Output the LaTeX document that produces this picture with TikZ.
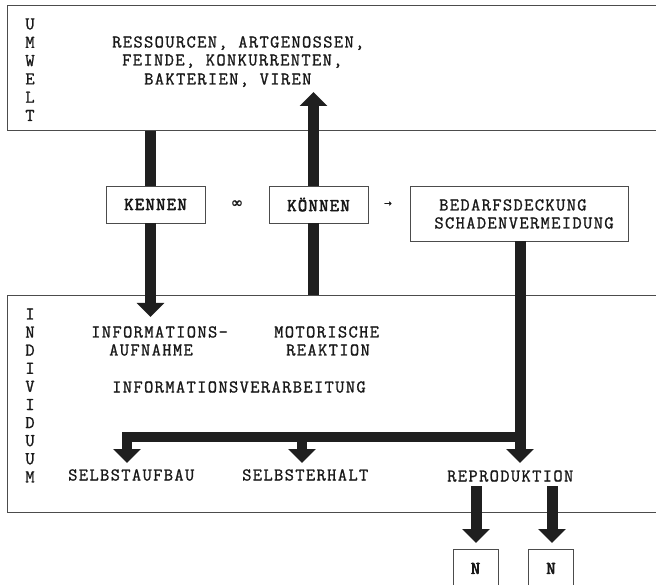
\documentclass[tikz,border=0pt]{standalone}
\usepackage{fontspec}
\newfontfamily\cmono[LetterSpace=7.5, FakeBold=1.1]{Latin Modern Mono}
\newfontfamily\cbold[LetterSpace=7.5, FakeBold=3]{Latin Modern Mono}
\newfontfamily\symf[FakeBold=1.2]{DejaVu Sans}
\usetikzlibrary{arrows.meta}
\newcommand\cour{\cmono\fontsize{18}{20}\selectfont}
\tikzset{
  frame/.style={draw=black!70, line width=0.9pt, inner sep=0pt, anchor=north west},
  lbl/.style={inner sep=0pt, font=\cour, text=black!90},
  bx/.style={draw=black!70, line width=0.9pt, inner sep=0pt, fill=white, font=\cour, text=black!90},
  shaft/.style={line width=11pt, draw=black!88},
  blk/.style={line width=11pt, draw=black!88, line join=miter, -{Triangle[width=27pt,length=14pt]}},
  sym/.style={inner sep=0pt, text=black!90},
}
\begin{document}
\begin{tikzpicture}[x=1pt,y=-1pt]
\useasboundingbox (0,0) rectangle (656,585);
\clip (0,0) rectangle (656,585);
\fill[white] (0,0) rectangle (656,585);
% frames
\node[frame, minimum width=660pt, minimum height=125pt] (umwelt) at (7,5) {};
\node[frame, minimum width=660pt, minimum height=217pt] (indiv) at (7,295) {};
% vertical words
\foreach \c [count=\i from 0] in {U,M,W,E,L,T}
  \node[lbl] (u\i) at (30,24+18.3*\i) {\c};
\foreach \c [count=\i from 0] in {I,N,D,I,V,I,D,U,U,M}
  \node[lbl] (i\i) at (30,314+18.1*\i) {\c};
% Umwelt text
\node[lbl, anchor=base west] (res1) at (112,47.5) {RESSOURCEN, ARTGENOSSEN,};
\node[lbl, anchor=base west] (res2) at (122,65.5) {FEINDE, KONKURRENTEN,};
\node[lbl, anchor=base west] (res3) at (144,84.5) {BAKTERIEN, VIREN};
% middle boxes
\node[bx, minimum width=99pt, minimum height=37pt] (kennen) at (155.5,204.5) {\cbold KENNEN};
\node[bx, minimum width=99pt, minimum height=37pt] (koennen) at (318.5,204.5) {\cbold KÖNNEN};
\node[bx, minimum width=218pt, minimum height=55pt] (bedarf) at (519,213.5) {};
\node[lbl, anchor=base west] (bed1) at (439,210.5) {BEDARFSDECKUNG};
\node[lbl, anchor=base] (bed2) at (524,228.5) {SCHADENVERMEIDUNG};
\node[sym, font=\symf\fontsize{15}{15}\selectfont] (inf) at (237,204) {∞};
\node[sym, font=\symf\fontsize{9}{9}\selectfont] (to) at (388,204) {→};
% Individuum text
\node[lbl, anchor=base west] (ia1) at (91,337.5) {INFORMATIONS-};
\node[lbl, anchor=base west] (ia2) at (109,355.5) {AUFNAHME};
\node[lbl, anchor=base west] (mr1) at (274,337.5) {MOTORISCHE};
\node[lbl, anchor=base west] (mr2) at (286,355.5) {REAKTION};
\node[lbl, anchor=base west] (iv) at (112,392.5) {INFORMATIONSVERARBEITUNG};
\node[lbl, anchor=base west] (sa) at (68,480.5) {SELBSTAUFBAU};
\node[lbl, anchor=base west] (se) at (242,480.5) {SELBSTERHALT};
\node[lbl, anchor=base west] (rp) at (447,481.5) {REPRODUKTION};
% N boxes
\node[bx, minimum width=45pt, minimum height=38pt, anchor=north] (n1) at (475.5,549) {\cbold N};
\node[bx, minimum width=45pt, minimum height=38pt, anchor=north] (n2) at (551,549) {\cbold N};
% coordinates
\coordinate (ka) at (150.5,0);
\coordinate (kt) at (150.5,317);
\coordinate (ko) at (313.5,0);
\coordinate (kot) at (313.5,92);
\coordinate (bx) at (520,0);
\coordinate (bt) at (520,463);
\coordinate (bar) at (520,436.5);
\coordinate (lt) at (127,463);
\coordinate (mt) at (302,463);
\coordinate (mb) at (302,436.5);
\coordinate (r1) at (476,486);
\coordinate (r2) at (552,486);
\coordinate (r1t) at (476,543);
\coordinate (r2t) at (552,543);
% arrows
\draw[shaft] (ka |- umwelt.south) -- (ka |- kennen.north);
\draw[blk] (ka |- kennen.south) -- (kt);
\draw[shaft] (ko |- indiv.north) -- (ko |- koennen.south);
\draw[blk] (ko |- koennen.north) -- (kot);
\draw[blk] (bx |- bedarf.south) -- (bt);
\draw[blk, line width=10pt] (bar) -| (lt);
\draw[blk, line width=10pt] (mb) -- (mt);
\draw[blk] (r1) -- (r1t);
\draw[blk] (r2) -- (r2t);
\end{tikzpicture}
\end{document}
